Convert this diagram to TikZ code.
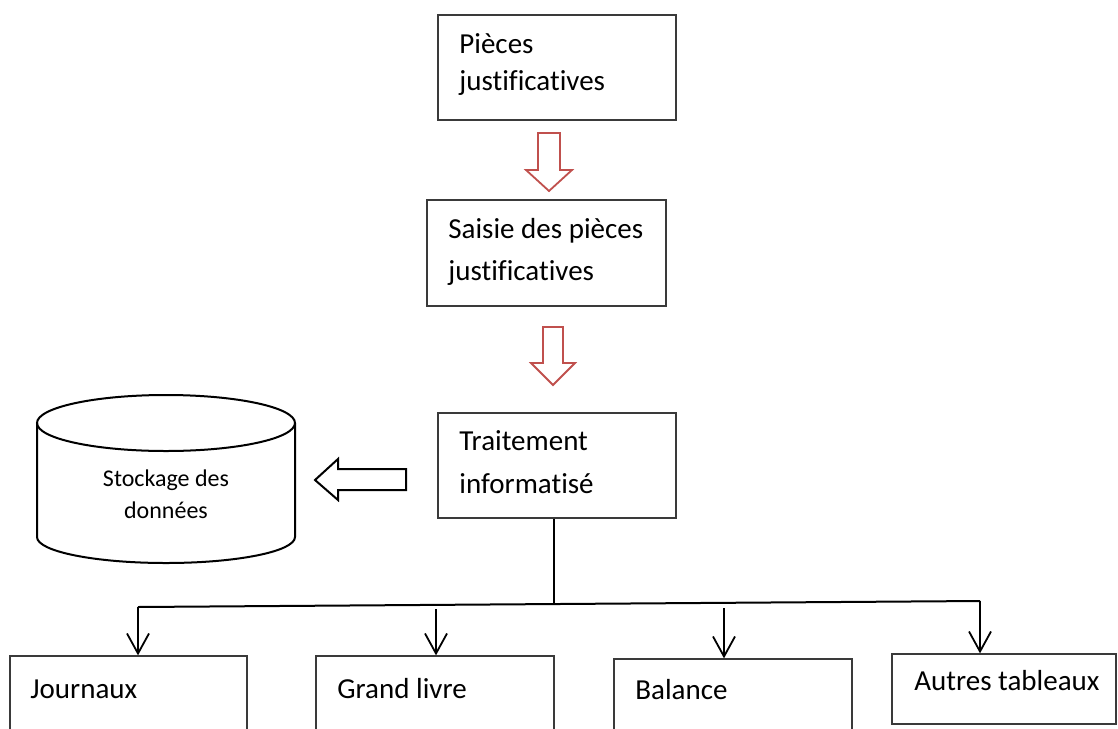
\documentclass[tikz,border=0pt]{standalone}
\usepackage{fontspec}
\setmainfont{Carlito}[Ligatures=NoCommon]
\usetikzlibrary{arrows.meta}
\definecolor{accentred}{HTML}{C0504D}
\definecolor{boxline}{HTML}{3A3A3A}
\tikzset{
  box/.style={draw=boxline, line width=0.65pt, rectangle, inner sep=0pt, fill=white},
  txt/.style={inner sep=0pt, font=\fontsize{14.5pt}{18.5pt}\selectfont, anchor=base west},
  smalltxt/.style={inner sep=0pt, font=\fontsize{12pt}{17pt}\selectfont, anchor=base},
  blockred/.style={draw=accentred, line width=0.9pt, fill=white, line join=miter},
  blockblack/.style={draw=black, line width=1pt, fill=white, line join=miter},
  conn/.style={draw=black, line width=0.9pt, -{Straight Barb[length=10pt,width=11pt,line width=0.9pt]}},
  trunk/.style={draw=black, line width=1pt}
}
\begin{document}
\begin{tikzpicture}[x=0.5pt,y=-0.5pt]
\useasboundingbox (0,0) rectangle (1118,728);
\clip (0,0) rectangle (1118,728);

% process boxes
\node[box, minimum width=119pt, minimum height=52.5pt] (b1) at (557,67.5) {};
\node[txt] (b1a) at (459,53) {Pièces};
\node[txt] (b1b) at (459,90) {justificatives};

\node[box, minimum width=119.5pt, minimum height=53pt] (b2) at (546.5,253) {};
\node[txt] (b2a) at (448,238) {Saisie des pièces};
\node[txt] (b2b) at (448,280) {justificatives};

\node[box, minimum width=119pt, minimum height=52.5pt] (b3) at (557,465.5) {};
\node[txt] (b3a) at (459,450) {Traitement};
\node[txt] (b3b) at (459,493) {informatisé};

% output boxes
\node[box, minimum width=118.5pt, minimum height=52pt] (j) at (128.5,708) {};
\node[txt] (jt) at (30,698) {Journaux};
\node[box, minimum width=119pt, minimum height=52pt] (g) at (435,708) {};
\node[txt] (gt) at (337,698) {Grand livre};
\node[box, minimum width=119pt, minimum height=50.5pt] (bal) at (733,709.5) {};
\node[txt] (balt) at (635,699) {Balance};
\node[box, minimum width=112pt, minimum height=35pt] (aut) at (1004,689) {};
\node[txt] (autt) at (914,690) {Autres tableaux};

% red block arrows between the steps
\draw[blockred] (538,133) -- (560,133) -- (560,170) -- (572,170) -- (549,191)
  -- (526,170) -- (538,170) -- cycle;
\draw[blockred] (543,327) -- (563,327) -- (563,363) -- (575,363) -- (553,385)
  -- (531,363) -- (543,363) -- cycle;

% data store
\draw[line width=1pt] (37,423) -- (37,537) arc[start angle=180, end angle=0, x radius=129, y radius=26] -- (295,423);
\draw[line width=1pt] (166,423) ellipse [x radius=129, y radius=28];
\node[smalltxt] (st1) at (166,486) {Stockage des};
\node[smalltxt] (st2) at (166,518) {données};

% block arrow towards the data store
\draw[blockblack] (406,469) -- (338,469) -- (338,459) -- (315,480) -- (338,500)
  -- (338,490) -- (406,490) -- cycle;

% distribution to the outputs
\coordinate (split) at (554,604);
\coordinate (hl) at (138,607);
\coordinate (hr) at (980,601);
\coordinate (ga) at (436,609);
\coordinate (ba) at (724,608);
\draw[trunk] (b3.south -| split) -- (split);
\draw[trunk] (hl) -- (hr);
\draw[conn] (hl) -- (hl |- j.north);
\draw[conn] (ga) -- (ga |- g.north);
\draw[conn] (ba) -- (ba |- bal.north);
\draw[conn] (hr) -- (hr |- aut.north);
\end{tikzpicture}
\end{document}
